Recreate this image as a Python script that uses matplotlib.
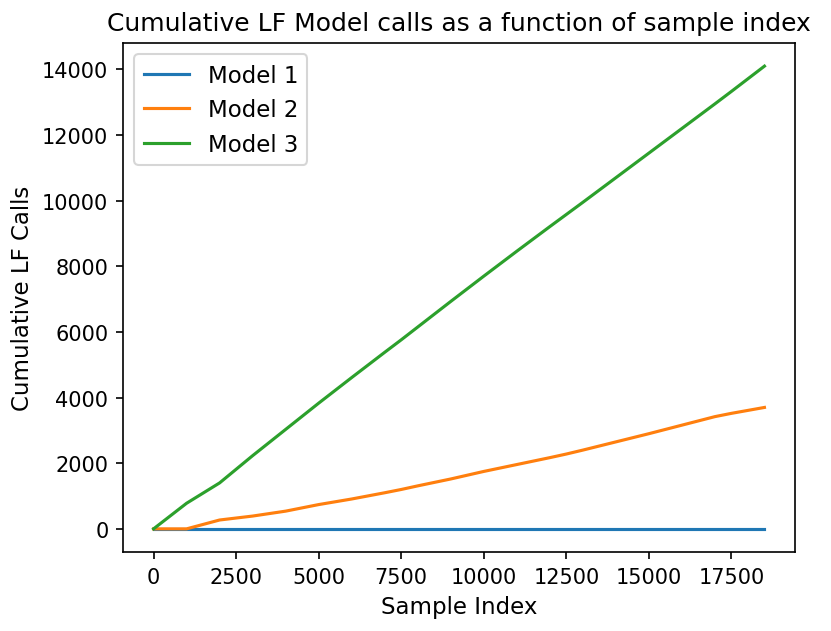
import numpy as np
import matplotlib
matplotlib.use('Agg')
import matplotlib.pyplot as plt

# Sample index breakpoints
sample_index = [0, 1000, 2000, 3000, 4000, 5000, 6000, 7000, 7500, 8000, 9000,
                10000, 11000, 12000, 12500, 13000, 14000, 15000, 16000, 17000,
                17500, 18500]

# Cumulative LF calls per model
model1_calls = [0] * len(sample_index)
model2_calls = [0, 0, 270, 390, 540, 740, 910, 1100, 1200, 1310, 1520,
                1750, 1960, 2170, 2280, 2400, 2650, 2900, 3160, 3420,
                3520, 3700]
model3_calls = [0, 780, 1400, 2230, 3030, 3830, 4610, 5380, 5760, 6150, 6930,
                7700, 8460, 9210, 9580, 9950, 10700, 11450, 12200, 12950,
                13330, 14100]

W, H, DPI = 831, 632, 150
fig = plt.figure(figsize=(W / DPI, H / DPI), dpi=DPI)
ax = fig.add_axes([123 / W, 1 - 553 / H, (795 - 123) / W, (553 - 44) / H])

ax.plot(sample_index, model1_calls, label='Model 1')
ax.plot(sample_index, model2_calls, label='Model 2')
ax.plot(sample_index, model3_calls, label='Model 3')

ax.set_title('Cumulative LF Model calls as a function of sample index', fontsize=12)
ax.set_xlabel('Sample Index', fontsize=11)
ax.set_ylabel('Cumulative LF Calls', fontsize=11)
ax.legend(fontsize=11)

fig.savefig('out.png', dpi=DPI)
